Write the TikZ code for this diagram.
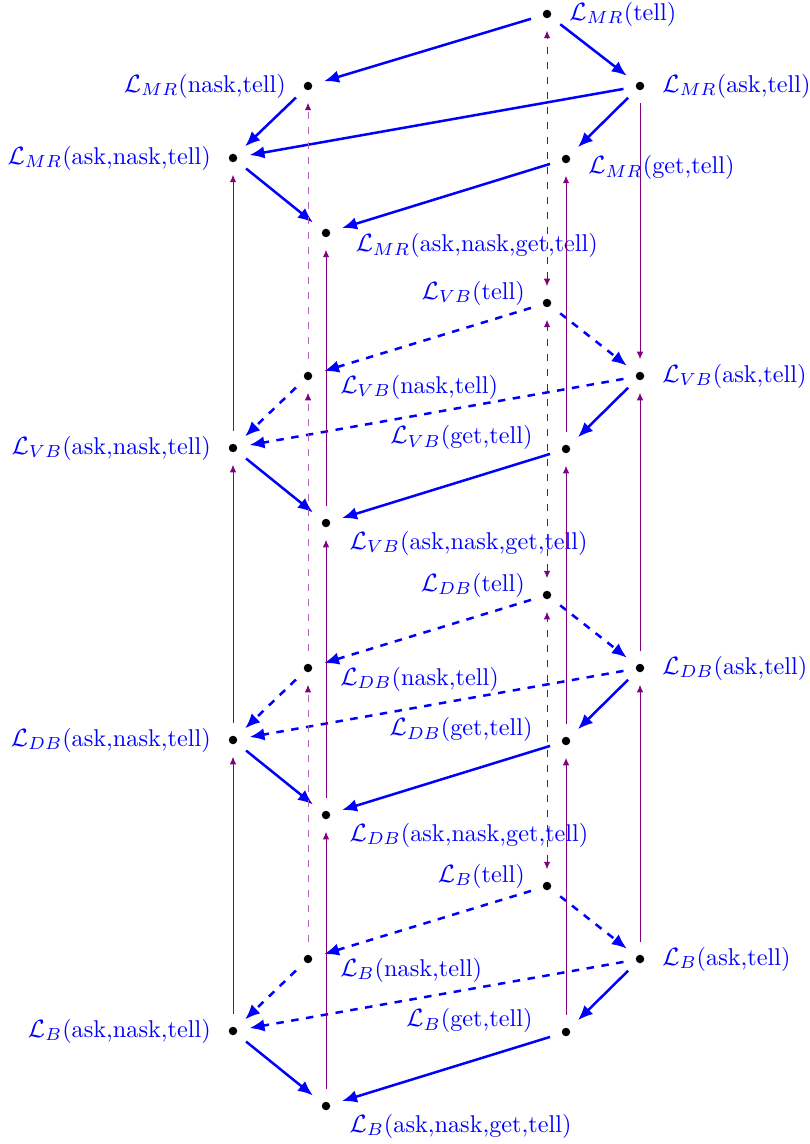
\documentclass[tikz,border=0pt]{standalone}
\usepackage{amsmath,amssymb}
\usetikzlibrary{arrows.meta}
\definecolor{vpurple}{RGB}{128,0,128}
\tikzset{
dot/.style={circle, fill, inner sep=0pt, minimum size=3.4pt, outer sep=5pt},
lbl/.style={text=blue, inner sep=2pt, font=\fontsize{9.7pt}{11pt}\selectfont},
hasse/.style={blue, line width=1pt, -{Latex[length=6pt,width=5pt]}},
hassed/.style={hasse, dashed},
up/.style={vpurple, -{Latex[length=3pt,width=2.6pt]}},
tellv/.style={vpurple, dashed, {Latex[length=3pt,width=2.6pt]}-{Latex[length=3pt,width=2.6pt]}},
naskv/.style={vpurple!60, dashed, -{Latex[length=3pt,width=2.6pt,color=vpurple]}}
}

\begin{document}
\begin{tikzpicture}[x=0.4pt,y=-0.4pt]
\useasboundingbox (0,0) rectangle (809,1144);

% top layer
\node[dot, label={[lbl]right:$\mathcal{L}_{MR}$(tell)}] (tMR) at (547,14) {};
\node[dot, label={[lbl]left:$\mathcal{L}_{MR}$(nask,tell)}] (nMR) at (308,86) {};
\node[dot, label={[lbl]right:$\mathcal{L}_{MR}$(ask,tell)}] (aMR) at (640,86) {};
\node[dot, label={[lbl]left:$\mathcal{L}_{MR}$(ask,nask,tell)}] (anMR) at (233,158) {};
\node[dot, label={[lbl,yshift=-3.5pt]right:$\mathcal{L}_{MR}$(get,tell)}] (gMR) at (566,159) {};
\node[dot, label={[lbl,xshift=3pt,yshift=-5pt]right:$\mathcal{L}_{MR}$(ask,nask,get,tell)}] (angMR) at (326,233) {};

\draw[hasse] (tMR) -- (nMR);
\draw[hasse] (tMR) -- (aMR);
\draw[hasse] (nMR) -- (anMR);
\draw[hasse] (aMR) -- (anMR);
\draw[hasse] (aMR) -- (gMR);
\draw[hasse] (anMR) -- (angMR);
\draw[hasse] (gMR) -- (angMR);

% lower layers
\foreach \lay/\dy in {VB/290, DB/582, B/873} {
\node[dot, label={[lbl,yshift=4pt]left:$\mathcal{L}_{\lay}$(tell)}] (t\lay) at (547,13+\dy) {};
\node[dot, label={[lbl,xshift=4pt,yshift=-4.4pt]right:$\mathcal{L}_{\lay}$(nask,tell)}] (n\lay) at (308,86+\dy) {};
\node[dot, label={[lbl]right:$\mathcal{L}_{\lay}$(ask,tell)}] (a\lay) at (640,86+\dy) {};
\node[dot, label={[lbl]left:$\mathcal{L}_{\lay}$(ask,nask,tell)}] (an\lay) at (233,158+\dy) {};
\node[dot, label={[lbl,xshift=-4.5pt,yshift=4.5pt]left:$\mathcal{L}_{\lay}$(get,tell)}] (g\lay) at (566,159+\dy) {};
\node[dot, label={[lbl,xshift=0.5pt,yshift=-8pt]right:$\mathcal{L}_{\lay}$(ask,nask,get,tell)}] (ang\lay) at (326,233+\dy) {};

\draw[hassed] (t\lay) -- (n\lay);
\draw[hassed] (t\lay) -- (a\lay);
\draw[hassed] (n\lay) -- (an\lay);
\draw[hassed] (a\lay) -- (an\lay);
\draw[hasse] (a\lay) -- (g\lay);
\draw[hasse] (an\lay) -- (ang\lay);
\draw[hasse] (g\lay) -- (ang\lay);
}

% between layers
\foreach \lo/\hi in {VB/MR, DB/VB, B/DB} {
\draw[tellv] (t\lo) -- (t\hi);
\draw[naskv] (n\lo) -- (n\hi);
\draw[up] (an\lo) -- (an\hi);
\draw[up] (ang\lo) -- (ang\hi);
\draw[up] (g\lo) -- (g\hi);
}
\draw[up, {Latex[length=3pt,width=2.6pt]}-] (aVB) -- (aMR);
\draw[up] (aDB) -- (aVB);
\draw[up] (aB) -- (aDB);

\end{tikzpicture}
\end{document}
